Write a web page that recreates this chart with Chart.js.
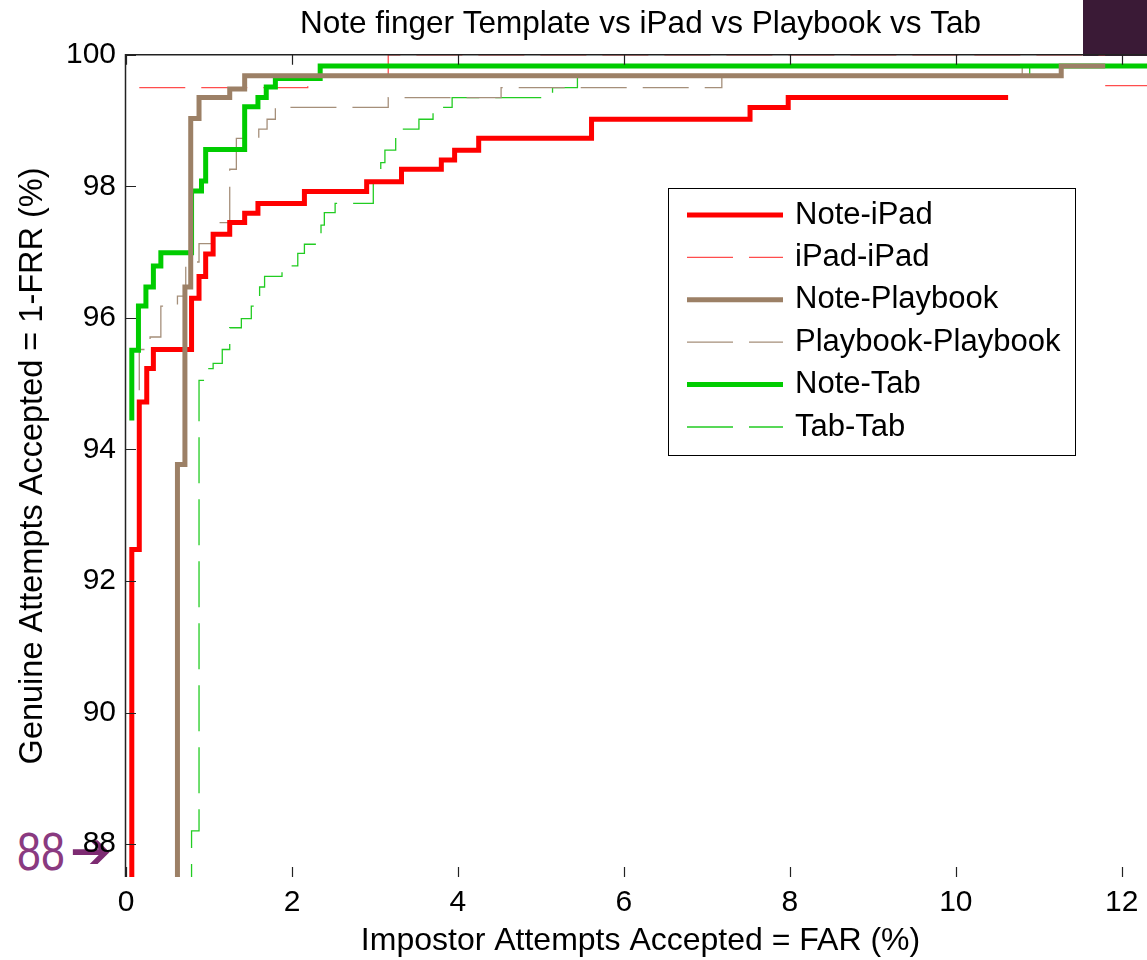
<!DOCTYPE html>
<html>
<head>
<meta charset="utf-8">
<title>Note finger Template vs iPad vs Playbook vs Tab</title>
<script src="https://cdn.jsdelivr.net/npm/chart.js@4.4.1/dist/chart.umd.min.js"></script>
<style>
  html, body { margin: 0; padding: 0; background: #fff; overflow: hidden; }
  #wrap { position: relative; width: 1147px; height: 960px; overflow: hidden; background: #fff; }
  #rocChart { position: absolute; left: 0; top: 0; z-index: 2; }
  #corner { position: absolute; left: 1083px; top: 0; width: 64px; height: 56px; background: #3a1a36; z-index: 1; }
  #badge { position: absolute; left: 17px; top: 825px; z-index: 1; color: #8a3a80; font-family: "Liberation Sans", Arial, sans-serif; font-size: 53px; line-height: 53px; white-space: nowrap; }
  #badge .num { display: inline-block; transform: scaleX(0.81); transform-origin: left center; }
  #badge .arr { position: absolute; left: 53px; top: 0; font-family: "DejaVu Sans", sans-serif; font-weight: bold; font-size: 50px; line-height: 53px; color: #7d2b72; }
</style>
</head>
<body>
<div id="wrap">
  <div id="corner"></div>
  <div id="badge"><span class="num">88</span><span class="arr">➔</span></div>
  <canvas id="rocChart" width="1160" height="960"></canvas>
</div>
<script>
// ========================================
// ROC - Note finger Template vs iPad vs Playbook vs Tab
// ========================================

// Axis ticks
const xTicks = [0, 2, 4, 6, 8, 10, 12];
const yTicks = [88, 90, 92, 94, 96, 98, 100];

// Step corners: FAR (%) and GAR = 1-FRR (%)
const noteIpadFar = [0.07, 0.07, 0.16, 0.25, 0.33, 0.79, 0.88, 0.96, 1.05, 1.25, 1.43, 1.59, 2.15, 2.90, 3.32, 3.80, 3.96, 4.25, 5.61, 7.52, 7.98, 10.63];
const noteIpadGar = [87, 92.48, 94.72, 95.23, 95.52, 96.30, 96.63, 96.97, 97.27, 97.45, 97.59, 97.74, 97.92, 98.07, 98.26, 98.40, 98.55, 98.73, 99.02, 99.20, 99.35, 99.35];

const ipadIpadFar = [0.16, 2.19, 3.16, 11.80, 11.80, 11.80, 13];
const ipadIpadGar = [99.50, 99.68, 100, 100, null, 99.53, 99.53];

const notePlaybookFar = [0.62, 0.62, 0.71, 0.78, 0.88, 1.25, 1.43, 11.27, 11.80];
const notePlaybookGar = [87, 93.77, 96.47, 99.03, 99.35, 99.48, 99.68, 99.83, 99.83];

const playbookPlaybookFar = [0.16, 0.16, 0.29, 0.42, 0.62, 0.72, 0.88, 1.05, 1.25, 1.33, 1.60, 1.70, 1.80, 3.16, 4.52, 7.18, 10.80, 13];
const playbookPlaybookGar = [94.90, 95.52, 95.71, 96.18, 96.33, 96.85, 97.13, 97.45, 98.26, 98.73, 98.87, 99.02, 99.20, 99.35, 99.50, 99.66, 99.83, 99.83];

const noteTabFar = [0.07, 0.07, 0.15, 0.24, 0.33, 0.42, 0.79, 0.91, 0.96, 1.43, 1.59, 1.69, 1.80, 2.34, 13];
const noteTabGar = [94.44, 95.51, 96.18, 96.47, 96.79, 96.99, 97.93, 98.08, 98.56, 99.21, 99.35, 99.51, 99.64, 99.83, 99.83];

const tabTabFar = [0.79, 0.79, 0.88, 0.96, 1.05, 1.16, 1.25, 1.39, 1.51, 1.61, 1.67, 1.88, 2.07, 2.15, 2.35, 2.39, 2.52, 2.98, 3.07, 3.12, 3.25, 3.53, 3.70, 3.93, 5.14, 5.44, 10.89, 13];
const tabTabGar = [87, 88.20, 95.05, 95.23, 95.31, 95.52, 95.85, 95.99, 96.18, 96.47, 96.63, 96.79, 96.98, 97.12, 97.41, 97.60, 97.74, 98.07, 98.36, 98.55, 98.87, 99.02, 99.20, 99.35, 99.50, 99.66, 99.83, 99.83];

const FONT = '"Liberation Sans", Arial, Helvetica, sans-serif';
Chart.defaults.font.family = FONT;
Chart.defaults.color = '#000';

function toPoints(xs, ys) {
    return xs.map((x, i) => ({ x: x, y: ys[i] }));
}

// Box + inward tick marks (matlab style), drawn over the curves
const axesFrame = {
    id: 'axesFrame',
    afterDatasetsDraw(chart, args, opts) {
        const { ctx, chartArea: a, scales: { x, y } } = chart;
        const L = opts.tickLength;
        ctx.save();
        ctx.strokeStyle = opts.color;
        ctx.lineWidth = 1.5;
        ctx.beginPath();
        ctx.moveTo(a.left - 0.5, a.bottom);
        ctx.lineTo(a.left - 0.5, a.top);
        ctx.lineTo(a.right, a.top);
        ctx.lineTo(a.right, a.bottom);
        ctx.stroke();

        ctx.lineWidth = 1.2;
        ctx.beginPath();
        xTicks.forEach(v => {
            const px = Math.round(x.getPixelForValue(v)) + 0.5;
            ctx.moveTo(px, a.bottom);
            ctx.lineTo(px, a.bottom - L);
            ctx.moveTo(px, a.top);
            ctx.lineTo(px, a.top + L);
        });
        yTicks.forEach(v => {
            const py = Math.round(y.getPixelForValue(v)) + 0.5;
            ctx.moveTo(a.left, py);
            ctx.lineTo(a.left + L, py);
        });
        ctx.stroke();
        ctx.restore();
    }
};

// Legend box inside the plot
const boxLegend = {
    id: 'boxLegend',
    afterDatasetsDraw(chart, args, opts) {
        const ctx = chart.ctx;
        ctx.save();
        ctx.fillStyle = '#fff';
        ctx.fillRect(opts.left, opts.top, opts.width, opts.height);
        ctx.strokeStyle = '#000';
        ctx.lineWidth = 1;
        ctx.strokeRect(opts.left + 0.5, opts.top + 0.5, opts.width, opts.height);

        ctx.font = opts.fontSize + 'px ' + FONT;
        ctx.textBaseline = 'middle';
        ctx.textAlign = 'left';
        chart.data.datasets.forEach((ds, i) => {
            const yy = opts.top + opts.firstRow + i * opts.rowGap;
            ctx.beginPath();
            ctx.setLineDash(ds.borderDash || []);
            ctx.lineDashOffset = 0;
            ctx.strokeStyle = ds.borderColor;
            ctx.lineWidth = ds.borderWidth;
            ctx.lineCap = 'butt';
            ctx.moveTo(opts.left + opts.sampleLeft, yy);
            ctx.lineTo(opts.left + opts.sampleRight, yy);
            ctx.stroke();
            ctx.setLineDash([]);
            ctx.fillStyle = '#000';
            ctx.fillText(ds.label, opts.left + opts.textLeft, yy);
        });
        ctx.restore();
    }
};

const lineDefaults = {
    stepped: 'before',
    pointRadius: 0,
    pointHoverRadius: 0,
    fill: false,
    spanGaps: false,
    borderJoinStyle: 'miter',
    borderCapStyle: 'butt'
};

const canvas = document.getElementById('rocChart');
const rocChart = new Chart(canvas.getContext('2d'), {
    type: 'line',
    data: {
        datasets: [
            { ...lineDefaults, label: 'Note-iPad', data: toPoints(noteIpadFar, noteIpadGar), borderColor: '#ff0000', borderWidth: 5, order: 3 },
            { ...lineDefaults, label: 'iPad-iPad', data: toPoints(ipadIpadFar, ipadIpadGar), borderColor: '#ff4d4d', borderWidth: 1.3, borderDash: [46, 16], order: 4 },
            { ...lineDefaults, label: 'Note-Playbook', data: toPoints(notePlaybookFar, notePlaybookGar), borderColor: '#9c8066', borderWidth: 5, order: 1 },
            { ...lineDefaults, label: 'Playbook-Playbook', data: toPoints(playbookPlaybookFar, playbookPlaybookGar), borderColor: '#a58f7a', borderWidth: 1.3, borderDash: [46, 16], order: 5 },
            { ...lineDefaults, label: 'Note-Tab', data: toPoints(noteTabFar, noteTabGar), borderColor: '#00cc00', borderWidth: 5, order: 2 },
            { ...lineDefaults, label: 'Tab-Tab', data: toPoints(tabTabFar, tabTabGar), borderColor: '#22cc22', borderWidth: 1.3, borderDash: [46, 16], order: 6 }
        ]
    },
    options: {
        responsive: false,
        devicePixelRatio: 1,
        animation: false,
        layout: { padding: { left: 0, right: 5, top: 0, bottom: 0 } },
        plugins: {
            legend: { display: false },
            tooltip: { enabled: false },
            title: {
                display: true,
                fullSize: false,
                text: 'Note finger Template vs iPad vs Playbook vs Tab',
                color: '#000',
                font: { size: 31.5, weight: 'normal' },
                padding: { top: 5, bottom: 12 }
            },
            axesFrame: { color: '#222', tickLength: 10 },
            boxLegend: { left: 668, top: 188, width: 407, height: 267, firstRow: 27, rowGap: 42.4, sampleLeft: 19, sampleRight: 115, textLeft: 127, fontSize: 31 }
        },
        scales: {
            x: {
                type: 'linear',
                min: 0,
                max: 12.4,
                afterBuildTicks: axis => { axis.ticks = xTicks.map(v => ({ value: v })); },
                afterFit: axis => { axis.height = 83; },
                grid: { display: false, drawTicks: false },
                border: { display: false },
                ticks: { color: '#000', font: { size: 30 }, padding: 8, maxRotation: 0 },
                title: {
                    display: true,
                    text: 'Impostor Attempts Accepted = FAR (%)',
                    color: '#000',
                    font: { size: 32 },
                    padding: { top: 0, bottom: 0 }
                }
            },
            y: {
                type: 'linear',
                min: 87.5,
                max: 100,
                afterBuildTicks: axis => { axis.ticks = yTicks.map(v => ({ value: v })); },
                afterFit: axis => { axis.width = 126; },
                grid: { display: false, drawTicks: false },
                border: { display: false },
                ticks: { color: '#000', font: { size: 30 }, padding: 10 },
                title: {
                    display: true,
                    text: 'Genuine Attempts Accepted = 1-FRR (%)',
                    color: '#000',
                    font: { size: 32.5 },
                    padding: { top: 14, bottom: 0 }
                }
            }
        }
    },
    plugins: [axesFrame, boxLegend]
});
</script>
</body>
</html>
